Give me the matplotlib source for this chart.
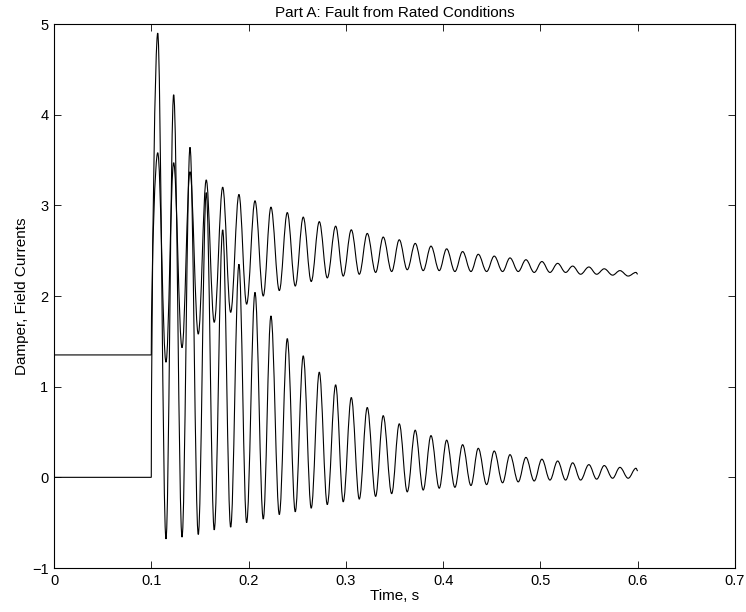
import numpy as np
import matplotlib
matplotlib.use('Agg')
import matplotlib.pyplot as plt
from matplotlib import font_manager
from matplotlib.path import Path
from matplotlib.patches import PathPatch

# pick a Helvetica-like face
names = {f.name for f in font_manager.fontManager.ttflist}
fams = [f for f in ['Liberation Sans'] if f in names] + ['DejaVu Sans']
plt.rcParams['font.family'] = fams

# values
t_fault = 0.1
t_end = 0.6
field_pre = 1.35
damper_pre = 0.0
field_end = 2.24
damper_end = 0.07

# times of the peaks and troughs (s)
t_peaks = [0.1066, 0.1230, 0.1398, 0.1565, 0.1734, 0.1901, 0.2066, 0.2230, 0.2398, 0.2562,
           0.2727, 0.2895, 0.3056, 0.3220, 0.3384, 0.3549, 0.3713, 0.3875, 0.4036, 0.4200,
           0.4361, 0.4525, 0.4687, 0.4851, 0.5015, 0.5177, 0.5331, 0.5498, 0.5656, 0.5817,
           0.5982]
t_troughs = [0.1151, 0.1316, 0.1483, 0.1647, 0.1816, 0.1980, 0.2151, 0.2316, 0.2480, 0.2644,
             0.2809, 0.2973, 0.3138, 0.3306, 0.3471, 0.3631, 0.3795, 0.3960, 0.4121, 0.4286,
             0.4447, 0.4611, 0.4772, 0.4936, 0.5098, 0.5259, 0.5413, 0.5578, 0.5742, 0.5902]

field_peaks = [3.58, 3.47, 3.37, 3.28, 3.20, 3.12, 3.05, 2.98, 2.92, 2.87,
               2.82, 2.77, 2.73, 2.69, 2.65, 2.62, 2.58, 2.55, 2.52, 2.49,
               2.46, 2.44, 2.42, 2.40, 2.38, 2.36, 2.33, 2.32, 2.30, 2.28,
               2.26]
field_troughs = [1.27, 1.43, 1.58, 1.71, 1.82, 1.91, 2.00, 2.06, 2.11, 2.16,
                 2.20, 2.22, 2.24, 2.26, 2.27, 2.29, 2.28, 2.28, 2.27, 2.27,
                 2.27, 2.27, 2.27, 2.26, 2.26, 2.26, 2.24, 2.24, 2.23, 2.22]

damper_peaks = [4.90, 4.22, 3.64, 3.14, 2.73, 2.35, 2.04, 1.78, 1.53, 1.34,
                1.16, 1.02, 0.88, 0.77, 0.68, 0.59, 0.52, 0.46, 0.41, 0.36,
                0.32, 0.29, 0.25, 0.22, 0.20, 0.18, 0.16, 0.14, 0.13, 0.11,
                0.10]
damper_troughs = [-0.68, -0.66, -0.63, -0.58, -0.55, -0.50, -0.46, -0.41, -0.38, -0.34,
                  -0.30, -0.27, -0.24, -0.21, -0.18, -0.16, -0.14, -0.12, -0.11, -0.09,
                  -0.08, -0.06, -0.05, -0.04, -0.03, -0.03, -0.03, -0.02, -0.01, -0.01]


def wave_path(pre, peaks, troughs, end):
    # flat line before the fault, then smooth arcs from one extremum to the next
    xs = [0.0, t_fault]
    ys = [pre, pre]
    for i in range(len(t_peaks)):
        xs.append(t_peaks[i]); ys.append(peaks[i])
        if i < len(t_troughs):
            xs.append(t_troughs[i]); ys.append(troughs[i])
    xs.append(t_end); ys.append(end)

    verts = [(xs[0], ys[0]), (xs[1], ys[1])]
    codes = [Path.MOVETO, Path.LINETO]
    k = 1 - 2 / np.pi
    for j in range(1, len(xs) - 1):
        x0, y0, x1, y1 = xs[j], ys[j], xs[j + 1], ys[j + 1]
        dx = x1 - x0
        if j == 1:
            c1 = (x0 + 0.05 * dx, y0 + 0.5 * (y1 - y0))
        else:
            c1 = (x0 + k * dx, y0)
        if j == len(xs) - 2:
            c2 = (x1 - 0.3 * dx, y1)
        else:
            c2 = (x1 - k * dx, y1)
        verts += [c1, c2, (x1, y1)]
        codes += [Path.CURVE4] * 3
    return Path(verts, codes)


fig = plt.figure(figsize=(7.46, 6.12), dpi=100)
ax = fig.add_axes([54 / 746, 44 / 612, 681 / 746, 544 / 612])

for pre, pk, tr, end in [(field_pre, field_peaks, field_troughs, field_end),
                         (damper_pre, damper_peaks, damper_troughs, damper_end)]:
    ax.add_patch(PathPatch(wave_path(pre, pk, tr, end), fill=False, edgecolor='black', lw=0.8))

ax.set_xlim(0, 0.7)
ax.set_ylim(-1, 5)
ax.set_xticks(np.arange(0, 0.71, 0.1))
ax.set_xticklabels(['0', '0.1', '0.2', '0.3', '0.4', '0.5', '0.6', '0.7'])
ax.set_yticks(range(-1, 6))
ax.tick_params(direction='in', top=True, right=True, length=5, width=0.6,
               labelsize=10.5, pad=4)
for s in ax.spines.values():
    s.set_linewidth(0.8)

ax.set_xlabel('Time, s', fontsize=11, labelpad=1)
ax.set_ylabel('Damper, Field Currents', fontsize=11, labelpad=2)
ax.set_title('Part A: Fault from Rated Conditions', fontsize=11, pad=5)

fig.savefig('out.png', dpi=100)
